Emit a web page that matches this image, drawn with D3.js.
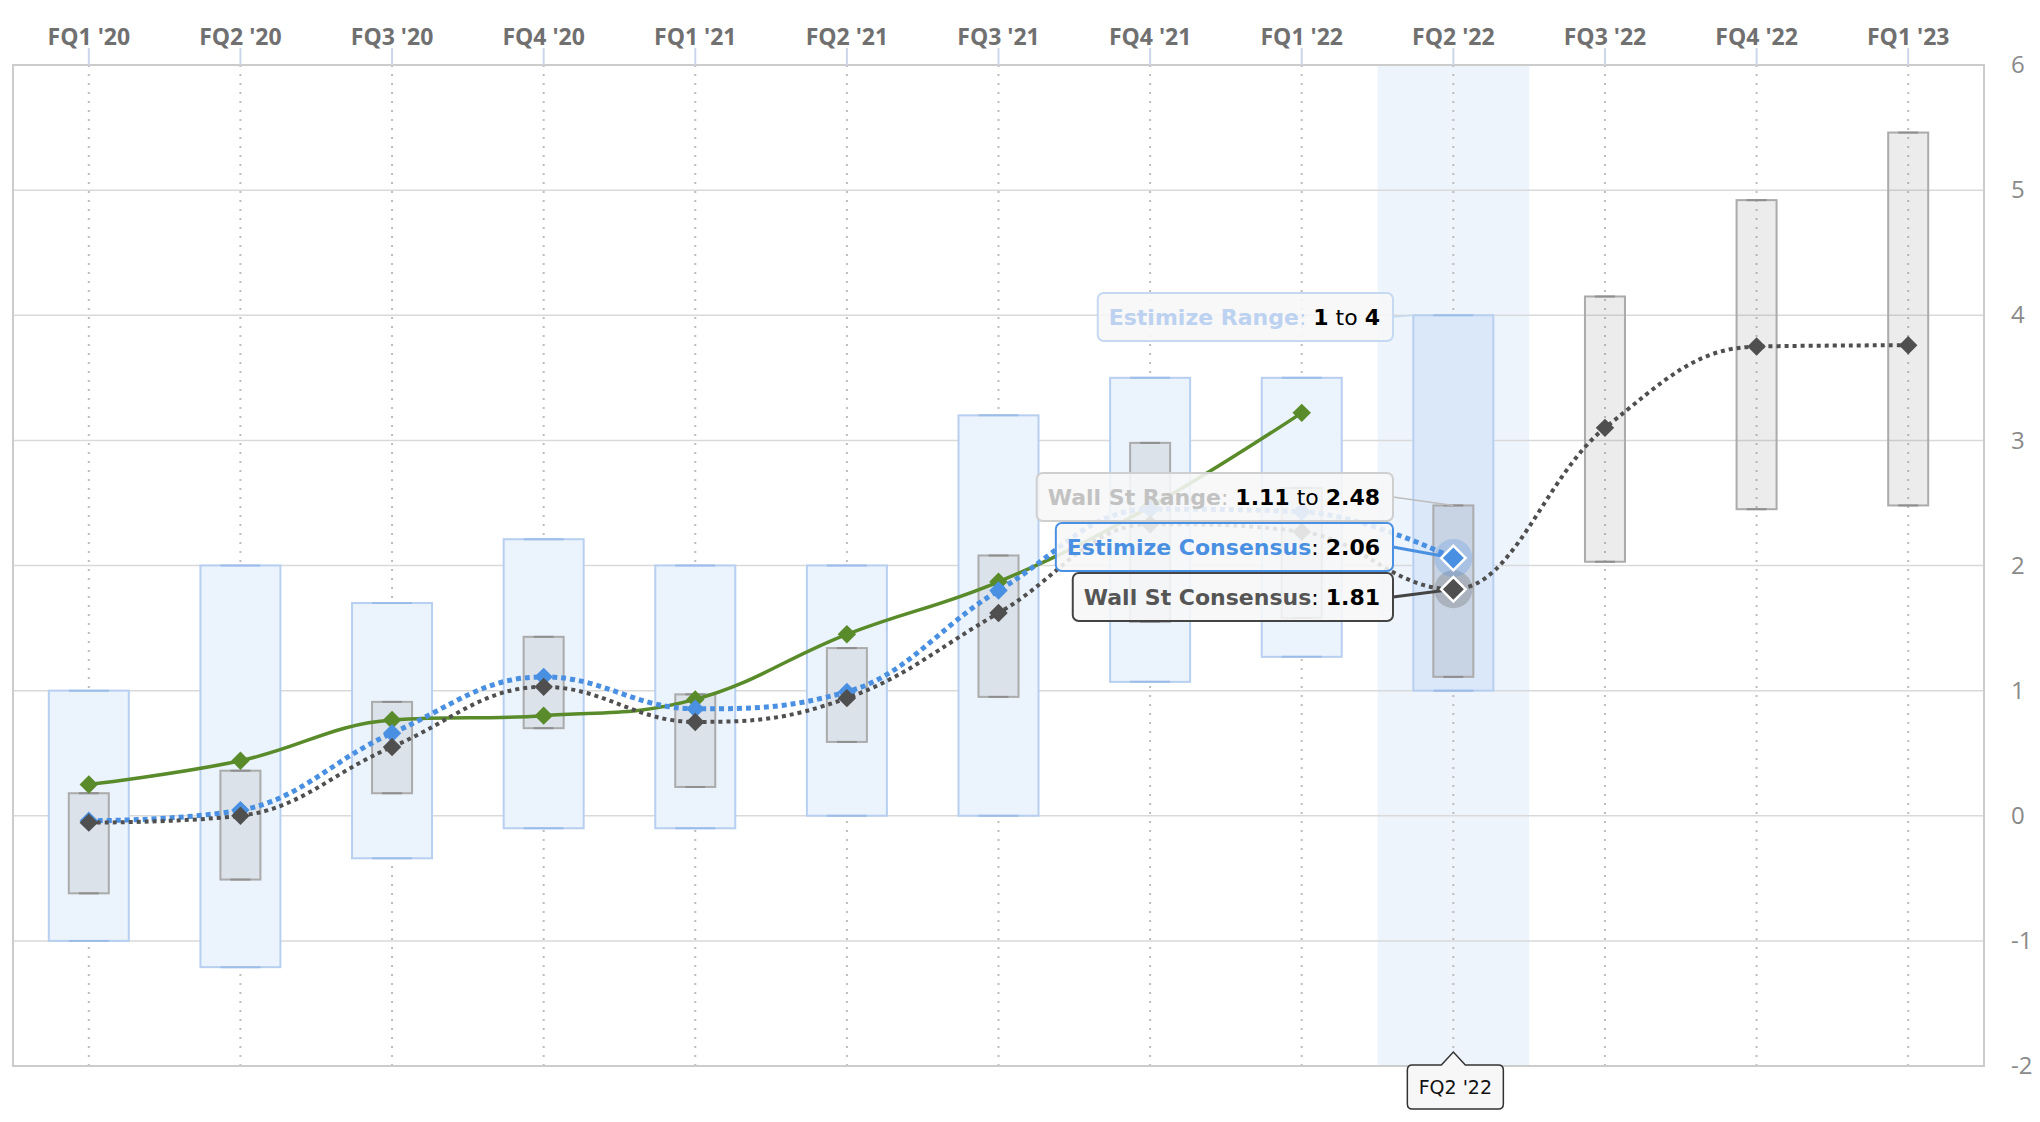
<!DOCTYPE html>
<html><head><meta charset="utf-8">
<script src="https://cdn.jsdelivr.net/npm/d3@7"></script>
<style>html,body{margin:0;padding:0;background:#fff;} svg{display:block}</style>
</head><body>
<svg id="chart" width="2040" height="1122"></svg>
<script>
// ---------- data ----------
const categories = ["FQ1 '20","FQ2 '20","FQ3 '20","FQ4 '20","FQ1 '21","FQ2 '21","FQ3 '21","FQ4 '21","FQ1 '22","FQ2 '22","FQ3 '22","FQ4 '22","FQ1 '23"];
const estimizeLow  = [-1.0, -1.21, -0.34, -0.1, -0.1, 0.0, 0.0, 1.07, 1.27, 1.0, null, null, null];
const estimizeHigh = [ 1.0,  2.0,   1.7,   2.21, 2.0, 2.0, 3.2, 3.5,  3.5,  4.0, null, null, null];
const wallStLow  = [-0.62, -0.51, 0.18, 0.70, 0.23, 0.59, 0.95, 1.55, 1.58, 1.11, 2.03, 2.45, 2.48];
const wallStHigh = [ 0.18,  0.36, 0.91, 1.43, 0.97, 1.34, 2.08, 2.98, 2.62, 2.48, 4.15, 4.92, 5.46];
const estimizeConsensus = [-0.04, 0.045, 0.66, 1.11, 0.855, 0.99, 1.80, 2.45, 2.43, 2.06, null, null, null];
const wallStConsensus   = [-0.055, 0.0, 0.55, 1.03, 0.75, 0.94, 1.62, 2.33, 2.27, 1.81, 3.10, 3.75, 3.76];
const actualEps         = [0.25, 0.44, 0.765, 0.80, 0.93, 1.45, 1.87, 2.47, 3.22, null, null, null, null];
const yTicks = [-2, -1, 0, 1, 2, 3, 4, 5, 6];
const hoverIndex = 9;

// ---------- layout ----------
const plot = {left: 13, right: 1984, top: 65, bottom: 1066};
const svg = d3.select("#chart");

const x = d3.scaleBand().domain(categories).range([plot.left, plot.right]).padding(0);
const cx = c => x(c) + x.bandwidth() / 2;
const y = d3.scaleLinear().domain([-2, 6]).range([plot.bottom, plot.top]);

const C = {
  blue: "#4a90e2", gray: "#4f4f4f", green: "#5a8b2a",
  estFill: "#ebf3fc", estStroke: "#b7cff0", estCap: "#9dbde9",
  wsFill: "rgba(140,140,150,0.17)", wsStroke: "#ababab", wsCap: "#8f8f8f"
};

// hover band
svg.append("rect")
  .attr("x", x(categories[hoverIndex])).attr("y", plot.top)
  .attr("width", x.bandwidth()).attr("height", plot.bottom - plot.top)
  .attr("fill", "#eef4fc");

// horizontal gridlines
svg.append("g").selectAll("line").data(yTicks).join("line")
  .attr("x1", plot.left).attr("x2", plot.right)
  .attr("y1", d => y(d)).attr("y2", d => y(d))
  .attr("stroke", "#d9d9d9").attr("stroke-width", 1.5);

// vertical dotted gridlines
svg.append("g").selectAll("line").data(categories).join("line")
  .attr("x1", d => cx(d)).attr("x2", d => cx(d))
  .attr("y1", plot.top).attr("y2", plot.bottom)
  .attr("stroke", "#bdbdbd").attr("stroke-width", 2).attr("stroke-dasharray", "2 7");

// frame
svg.append("rect")
  .attr("x", plot.left).attr("y", plot.top)
  .attr("width", plot.right - plot.left).attr("height", plot.bottom - plot.top)
  .attr("fill", "none").attr("stroke", "#cccccc").attr("stroke-width", 2);

// top axis
const xAxis = d3.axisTop(x).tickSize(17).tickPadding(3);
const gx = svg.append("g").attr("transform", `translate(0,${plot.top})`).call(xAxis);
gx.select(".domain").remove();
gx.selectAll(".tick line").attr("stroke", "#ccd6eb").attr("stroke-width", 2);
gx.selectAll(".tick text").attr("fill", "#707070")
  .style("font-family", "'Open Sans', sans-serif").style("font-size", "23px").style("font-weight", "700");

// right axis
const yAxis = d3.axisRight(y).tickValues(yTicks).tickSize(0).tickPadding(27).tickFormat(d => String(d));
const gy = svg.append("g").attr("transform", `translate(${plot.right},0)`).call(yAxis);
gy.select(".domain").remove();
gy.selectAll(".tick text").attr("fill", "#8a8a8a")
  .style("font-family", "'Open Sans', sans-serif").style("font-size", "24px");

// ---------- range boxes ----------
function boxes(low, high, halfW, fill, stroke, cap, cls) {
  const data = categories.map((c, i) => ({c, i, lo: low[i], hi: high[i]})).filter(d => d.lo != null && d.hi != null);
  const g = svg.append("g").attr("class", cls);
  g.selectAll("rect").data(data).join("rect")
    .attr("x", d => cx(d.c) - halfW).attr("width", halfW * 2)
    .attr("y", d => y(d.hi)).attr("height", d => y(d.lo) - y(d.hi))
    .attr("fill", d => typeof fill === "function" ? fill(d) : fill)
    .attr("stroke", stroke).attr("stroke-width", 2);
  ["hi", "lo"].forEach(k => {
    g.selectAll("line." + k).data(data).join("line").attr("class", k)
      .attr("x1", d => cx(d.c) - halfW / 2).attr("x2", d => cx(d.c) + halfW / 2)
      .attr("y1", d => y(d[k])).attr("y2", d => y(d[k]))
      .attr("stroke", cap).attr("stroke-width", 2);
  });
}
boxes(estimizeLow, estimizeHigh, 40, d => d.i === hoverIndex ? "#dbe8f9" : C.estFill, C.estStroke, C.estCap, "est");
boxes(wallStLow, wallStHigh, 20, d => d.i === hoverIndex ? "rgba(130,135,150,0.22)" : C.wsFill, C.wsStroke, C.wsCap, "ws");

// ---------- Highcharts-like spline ----------
function hcSpline(pts) {
  const p = d3.path();
  const s = 1.5, den = s + 1;
  let prevRight = null;
  pts.forEach((pt, i) => {
    const last = pts[i - 1], next = pts[i + 1];
    let lcx, lcy, rcx, rcy;
    if (last && next) {
      lcx = (s * pt.x + last.x) / den; lcy = (s * pt.y + last.y) / den;
      rcx = (s * pt.x + next.x) / den; rcy = (s * pt.y + next.y) / den;
      let corr = 0;
      if (rcx !== lcx) corr = ((rcy - lcy) * (rcx - pt.x)) / (rcx - lcx) + pt.y - rcy;
      lcy += corr; rcy += corr;
      if (lcy > last.y && lcy > pt.y) { lcy = Math.max(last.y, pt.y); rcy = 2 * pt.y - lcy; }
      else if (lcy < last.y && lcy < pt.y) { lcy = Math.min(last.y, pt.y); rcy = 2 * pt.y - lcy; }
      if (rcy > next.y && rcy > pt.y) { rcy = Math.max(next.y, pt.y); lcy = 2 * pt.y - rcy; }
      else if (rcy < next.y && rcy < pt.y) { rcy = Math.min(next.y, pt.y); lcy = 2 * pt.y - rcy; }
    }
    if (i === 0) p.moveTo(pt.x, pt.y);
    else {
      const c1 = prevRight || [last.x, last.y];
      p.bezierCurveTo(c1[0], c1[1], lcx !== undefined ? lcx : pt.x, lcy !== undefined ? lcy : pt.y, pt.x, pt.y);
    }
    prevRight = rcx !== undefined ? [rcx, rcy] : null;
  });
  return p.toString();
}
const toPts = vals => categories.map((c, i) => ({c, i, v: vals[i], x: cx(c), y: vals[i] == null ? null : y(vals[i])})).filter(d => d.v != null);

const diamond = d3.symbol().type(d3.symbolSquare).size(170);
function series(vals, color, width, dash) {
  const pts = toPts(vals);
  const g = svg.append("g");
  g.append("path").attr("d", hcSpline(pts)).attr("fill", "none")
    .attr("stroke", color).attr("stroke-width", width)
    .attr("stroke-dasharray", dash || null);
  g.selectAll("path.m").data(pts.filter(d => d.i !== hoverIndex)).join("path").attr("class", "m")
    .attr("d", diamond).attr("fill", color)
    .attr("transform", d => `translate(${d.x},${d.y}) rotate(45)`);
  return pts;
}
series(actualEps, C.green, 3.5, null);
series(estimizeConsensus, C.blue, 5, "5 4");
series(wallStConsensus, C.gray, 4, "4 4");

// ---------- tooltip (split) ----------
const hc = cx(categories[hoverIndex]);
const tip = svg.append("g").style("font-family", "'DejaVu Sans', sans-serif").style("font-size", "22px");
const fmt = d3.format(".2f");
const fmtR = v => (Math.round(v) === v ? String(v) : fmt(v));
const textRight = 1380;

function label(parts, cyc, stroke, target, connColor, connW) {
  const g = tip.append("g");
  const t = g.append("text").attr("x", textRight).attr("y", cyc).attr("dy", "0.36em").attr("text-anchor", "end");
  parts.forEach(p => t.append("tspan").text(p.t).attr("fill", p.f).attr("font-weight", p.w || "bold"));
  const bb = t.node().getBBox();
  const left = bb.x - 11, right = textRight + 13, top = cyc - 24, bot = cyc + 24;
  g.insert("rect", "text").attr("x", left).attr("y", top).attr("width", right - left).attr("height", bot - top)
    .attr("rx", 6).attr("fill", "rgba(247,247,247,0.88)").attr("stroke", stroke).attr("stroke-width", 2);
  g.insert("line", "rect").attr("x1", right).attr("y1", cyc).attr("x2", target[0]).attr("y2", target[1])
    .attr("stroke", connColor).attr("stroke-width", connW);
}
const i = hoverIndex;
label([{t: "Estimize Range", f: "#bcd2f0"}, {t: ": ", f: "#bcd2f0", w: "normal"},
       {t: fmtR(estimizeLow[i]), f: "#000"}, {t: " to ", f: "#000", w: "normal"}, {t: fmtR(estimizeHigh[i]), f: "#000"}],
      317, "#c6d9f2", [hc - 40, y(estimizeHigh[i])], "#c6d9f2", 1.5);
label([{t: "Wall St Range", f: "#c2c2c2"}, {t: ": ", f: "#c2c2c2", w: "normal"},
       {t: fmt(wallStLow[i]), f: "#000"}, {t: " to ", f: "#000", w: "normal"}, {t: fmt(wallStHigh[i]), f: "#000"}],
      497, "#cfcfcf", [hc, y(wallStHigh[i])], "#bdbdbd", 1.5);
label([{t: "Estimize Consensus", f: C.blue}, {t: ": ", f: "#000", w: "normal"}, {t: fmt(estimizeConsensus[i]), f: "#000"}],
      547, C.blue, [hc, y(estimizeConsensus[i])], C.blue, 3);
label([{t: "Wall St Consensus", f: "#555"}, {t: ": ", f: "#000", w: "normal"}, {t: fmt(wallStConsensus[i]), f: "#000"}],
      597, "#444", [hc, y(wallStConsensus[i])], "#444", 3);

// hovered points with halos
const hoverDiamond = d3.symbol().type(d3.symbolSquare).size(300);
[[wallStConsensus, C.gray], [estimizeConsensus, C.blue]].forEach(([vals, col]) => {
  svg.append("circle").attr("cx", hc).attr("cy", y(vals[i])).attr("r", 19).attr("fill", col).attr("fill-opacity", 0.25);
});
[[wallStConsensus, C.gray], [estimizeConsensus, C.blue]].forEach(([vals, col]) => {
  svg.append("path").attr("d", hoverDiamond).attr("fill", col).attr("stroke", "#fff").attr("stroke-width", 2.5)
    .attr("transform", `translate(${hc},${y(vals[i])}) rotate(45)`);
});

// crosshair category label at bottom
const lb = svg.append("g");
const bx0 = hc - 46, bx1 = hc + 50, by0 = plot.bottom - 1, by1 = plot.bottom + 43;
const lp = d3.path();
lp.moveTo(bx0 + 5, by0); lp.lineTo(hc - 12, by0); lp.lineTo(hc, by0 - 13); lp.lineTo(hc + 12, by0);
lp.lineTo(bx1 - 5, by0); lp.quadraticCurveTo(bx1, by0, bx1, by0 + 5); lp.lineTo(bx1, by1 - 5);
lp.quadraticCurveTo(bx1, by1, bx1 - 5, by1); lp.lineTo(bx0 + 5, by1); lp.quadraticCurveTo(bx0, by1, bx0, by1 - 5);
lp.lineTo(bx0, by0 + 5); lp.quadraticCurveTo(bx0, by0, bx0 + 5, by0); lp.closePath();
lb.append("path").attr("d", lp.toString()).attr("fill", "#f7f7f7").attr("stroke", "#333").attr("stroke-width", 1.5);
lb.append("text").attr("x", (bx0 + bx1) / 2).attr("y", (by0 + by1) / 2).attr("dy", "0.36em").attr("text-anchor", "middle")
  .style("font-family", "'DejaVu Sans', sans-serif").style("font-size", "19px").attr("fill", "#111").text(categories[hoverIndex]);
</script>
</body></html>
